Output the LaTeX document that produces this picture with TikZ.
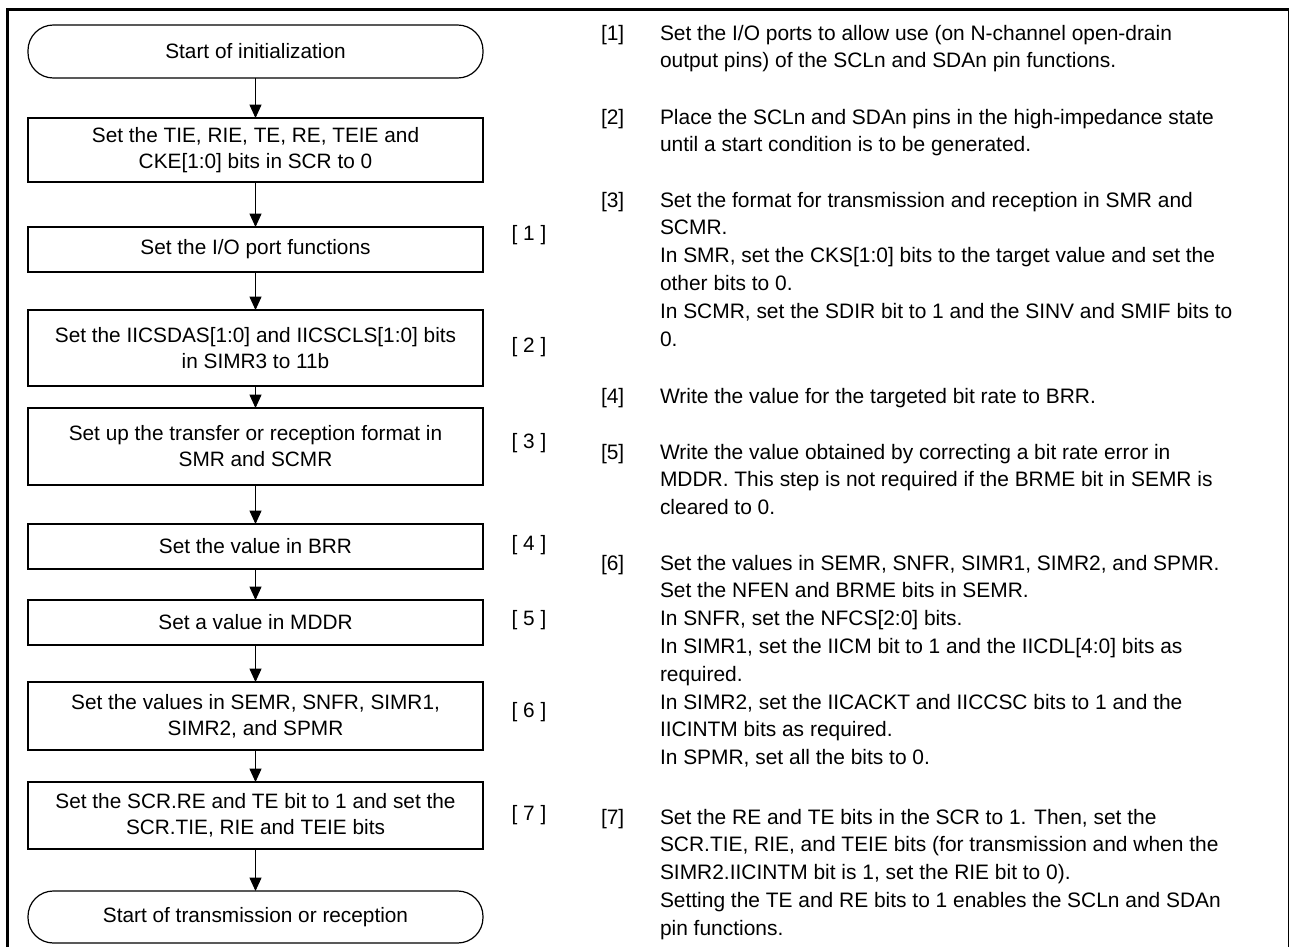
\documentclass[tikz,border=0pt]{standalone}
\usepackage{fontspec}
\setmainfont{Liberation Sans}
\usetikzlibrary{arrows.meta}
\begin{document}
\begin{tikzpicture}[x=0.75pt,y=-0.75pt,
  every node/.style={inner sep=0pt, outer sep=0pt},
  fbox/.style={draw, line width=0.9pt, minimum width=341.25pt, align=center,
    font=\fontsize{15.6}{19.5}\selectfont},
  term/.style={fbox, rounded corners=19pt},
  lab/.style={font=\fontsize{15.6}{19.5}\selectfont},
  arr/.style={line width=0.7pt, -{Triangle[width=9pt,length=10pt]}},
  num/.style={anchor=base west, font=\fontsize{15.7}{20.85}\selectfont},
  para/.style={anchor=base west, font=\fontsize{15.7}{20.85}\selectfont}
]
\useasboundingbox (0,0) rectangle (1290,947);
% frame
\draw[line width=2pt, line join=miter] (7.3,947) -- (7.3,9.5) -- (1288.5,9.5);
\draw[line width=0.75pt] (1288.5,9.5) -- (1288.5,947);

% flowchart
\node[term, minimum height=39.75pt] (t1) at (255.5,51.5) {Start of initialization};
\node[fbox, minimum height=48pt] (b1) at (255.5,150) {Set the TIE, RIE, TE, RE, TEIE and\\CKE[1:0] bits in SCR to 0};
\node[fbox, minimum height=33.75pt] (b2) at (255.5,249.5) {Set the I/O port functions};
\node[fbox, minimum height=57pt] (b3) at (255.5,348) {Set the IICSDAS[1:0] and IICSCLS[1:0] bits\\in SIMR3 to 11b};
\node[fbox, minimum height=57.75pt] (b4) at (255.5,446.5) {Set up the transfer or reception format in\\SMR and SCMR};
\node[fbox, minimum height=33.75pt] (b5) at (255.5,546.5) {Set the value in BRR};
\node[fbox, minimum height=33.75pt] (b6) at (255.5,622.5) {Set a value in MDDR};
\node[fbox, minimum height=51pt] (b7) at (255.5,716) {Set the values in SEMR, SNFR, SIMR1,\\SIMR2, and SPMR};
\node[fbox, minimum height=50.25pt] (b8) at (255.5,815.5) {Set the SCR.RE and TE bit to 1 and set the\\SCR.TIE, RIE and TEIE bits};
\node[term, minimum height=39pt] (t2) at (255.5,917) {Start of transmission or reception};

\draw[arr] (t1) -- (b1);
\draw[arr] (b1) -- (b2);
\draw[arr] (b2) -- (b3);
\draw[arr] (b3) -- (b4);
\draw[arr] (b4) -- (b5);
\draw[arr] (b5) -- (b6);
\draw[arr] (b6) -- (b7);
\draw[arr] (b7) -- (b8);
\draw[arr] (b8) -- (t2);

\node[lab] (l1) at (529,235) {[ 1 ]};
\node[lab] (l2) at (529,347) {[ 2 ]};
\node[lab] (l3) at (529,443) {[ 3 ]};
\node[lab] (l4) at (529,545) {[ 4 ]};
\node[lab] (l5) at (529,620) {[ 5 ]};
\node[lab] (l6) at (529,712) {[ 6 ]};
\node[lab] (l7) at (529,815) {[ 7 ]};

% notes
\node[num] (n1) at (601,40) {[1]};
\node[para] (p1) at (660,40) {\parbox[t]{470pt}{Set the I/O ports to allow use (on N-channel open-drain\\output pins) of the SCLn and SDAn pin functions.}};
\node[num] (n2) at (601,124) {[2]};
\node[para] (p2) at (660,124) {\parbox[t]{470pt}{Place the SCLn and SDAn pins in the high-impedance state\\until a start condition is to be generated.}};
\node[num] (n3) at (601,207) {[3]};
\node[para] (p3) at (660,207) {\parbox[t]{470pt}{Set the format for transmission and reception in SMR and\\SCMR.\\In SMR, set the CKS[1:0] bits to the target value and set the\\other bits to 0.\\In SCMR, set the SDIR bit to 1 and the SINV and SMIF bits to\\0.}};
\node[num] (n4) at (601,403) {[4]};
\node[para] (p4) at (660,403) {\parbox[t]{470pt}{Write the value for the targeted bit rate to BRR.}};
\node[num] (n5) at (601,459) {[5]};
\node[para] (p5) at (660,459) {\parbox[t]{470pt}{Write the value obtained by correcting a bit rate error in\\MDDR. This step is not required if the BRME bit in SEMR is\\cleared to 0.}};
\node[num] (n6) at (601,570) {[6]};
\node[para] (p6) at (660,570) {\parbox[t]{470pt}{Set the values in SEMR, SNFR, SIMR1, SIMR2, and SPMR.\\Set the NFEN and BRME bits in SEMR.\\In SNFR, set the NFCS[2:0] bits.\\In SIMR1, set the IICM bit to 1 and the IICDL[4:0] bits as\\required.\\In SIMR2, set the IICACKT and IICCSC bits to 1 and the\\IICINTM bits as required.\\In SPMR, set all the bits to 0.}};
\node[num] (n7) at (601,824) {[7]};
\node[para] (p7) at (660,824) {\parbox[t]{470pt}{Set the RE and TE bits in the SCR to 1. Then, set the\\SCR.TIE, RIE, and TEIE bits (for transmission and when the\\SIMR2.IICINTM bit is 1, set the RIE bit to 0).\\Setting the TE and RE bits to 1 enables the SCLn and SDAn\\pin functions.}};
\end{tikzpicture}
\end{document}
